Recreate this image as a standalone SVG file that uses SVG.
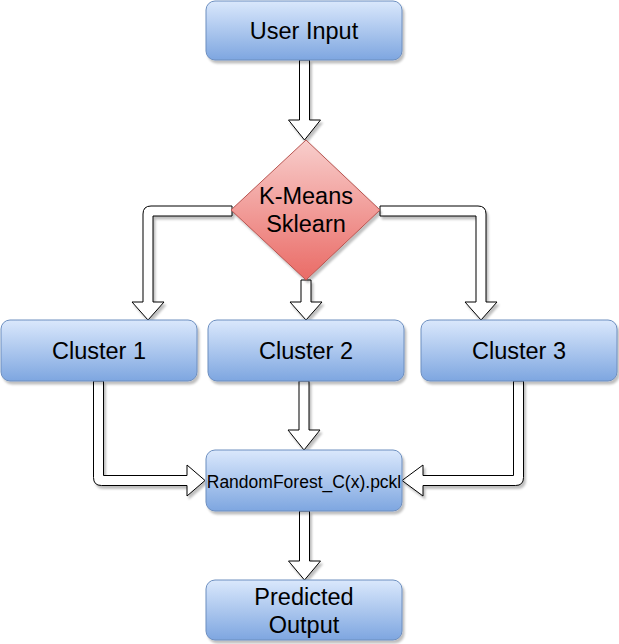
<svg xmlns="http://www.w3.org/2000/svg" width="619" height="644" viewBox="0 0 619 644">
<style>
.box{fill:url(#gBlue);stroke:#6c8ebf;stroke-width:1;filter:url(#sh)}
.dia{fill:url(#gRed);stroke:#b85450;stroke-width:1;filter:url(#sh)}
.arr{fill:#fff;stroke:#000;stroke-width:1;stroke-linejoin:miter;filter:url(#sh)}
.t{font-family:"Liberation Sans",Arial,sans-serif;font-size:23.5px;fill:#000;text-anchor:middle}
.ts{font-family:"Liberation Sans",Arial,sans-serif;font-size:17.5px;fill:#000;text-anchor:middle}
</style>
<defs>
<linearGradient id="gBlue" x1="0" y1="0" x2="0" y2="1">
<stop offset="0" stop-color="#dae8fc"/><stop offset="1" stop-color="#7ea6e0"/>
</linearGradient>
<linearGradient id="gRed" x1="0" y1="0" x2="0" y2="1">
<stop offset="0" stop-color="#f8cecc"/><stop offset="1" stop-color="#ea6b66"/>
</linearGradient>
<filter id="sh" x="-10%" y="-10%" width="130%" height="130%">
<feDropShadow dx="2" dy="3" stdDeviation="1" flood-color="#000" flood-opacity="0.25"/>
</filter>
</defs>
<g id="connectors">
<path class="arr" d="M299.5,60 L309.5,60 L309.5,120 L320.5,120 L304.5,140 L288.5,120 L299.5,120 Z"/>
<path class="arr" d="M232,206 L151,206 Q143,206 143,214 L143,302 L132,302 L148,320 L164,302 L153,302 L153,216 L232,216 Z"/>
<path class="arr" d="M380,206 L478,206 Q486,206 486,214 L486,302 L497,302 L481,320 L465,302 L476,302 L476,216 L380,216 Z"/>
<path class="arr" d="M301,280 L311,280 L311,302 L322,302 L306,320 L290,302 L301,302 Z"/>
<path class="arr" d="M93.5,381 L103.5,381 L103.5,475.5 L187,475.5 L187,465 L205,480.5 L187,496 L187,485.5 L101.5,485.5 Q93.5,485.5 93.5,477.5 Z"/>
<path class="arr" d="M299,381 L309,381 L309,430 L320,430 L304,450 L288,430 L299,430 Z"/>
<path class="arr" d="M523.5,381 L513.5,381 L513.5,475.5 L423,475.5 L423,465 L402,480.5 L423,496 L423,485.5 L515.5,485.5 Q523.5,485.5 523.5,477.5 Z"/>
<path class="arr" d="M299.5,511 L309.5,511 L309.5,561 L320.5,561 L304.5,580 L288.5,561 L299.5,561 Z"/>
</g>
<g id="user-input">
<rect class="box" x="206" y="1" width="196" height="59" rx="9"/>
<text class="t" x="304" y="39">User Input</text>
</g>
<g id="kmeans">
<polygon class="dia" points="306,140 380,210 306,280 231,210"/>
<text class="t" x="306" y="204">K-Means</text>
<text class="t" x="306" y="232">Sklearn</text>
</g>
<g id="cluster1">
<rect class="box" x="1" y="320" width="196" height="61" rx="9"/>
<text class="t" x="99" y="359">Cluster 1</text>
</g>
<g id="cluster2">
<rect class="box" x="208" y="320" width="196" height="61" rx="9"/>
<text class="t" x="306" y="359">Cluster 2</text>
</g>
<g id="cluster3">
<rect class="box" x="421" y="320" width="196" height="61" rx="9"/>
<text class="t" x="519" y="359">Cluster 3</text>
</g>
<g id="randomforest">
<rect class="box" x="206" y="450" width="196" height="61" rx="9"/>
<text class="ts" x="304" y="488">RandomForest_C(x).pckl</text>
</g>
<g id="predicted">
<rect class="box" x="206" y="580" width="196" height="60" rx="9"/>
<text class="t" x="304" y="605">Predicted</text>
<text class="t" x="304" y="633">Output</text>
</g>
</svg>
